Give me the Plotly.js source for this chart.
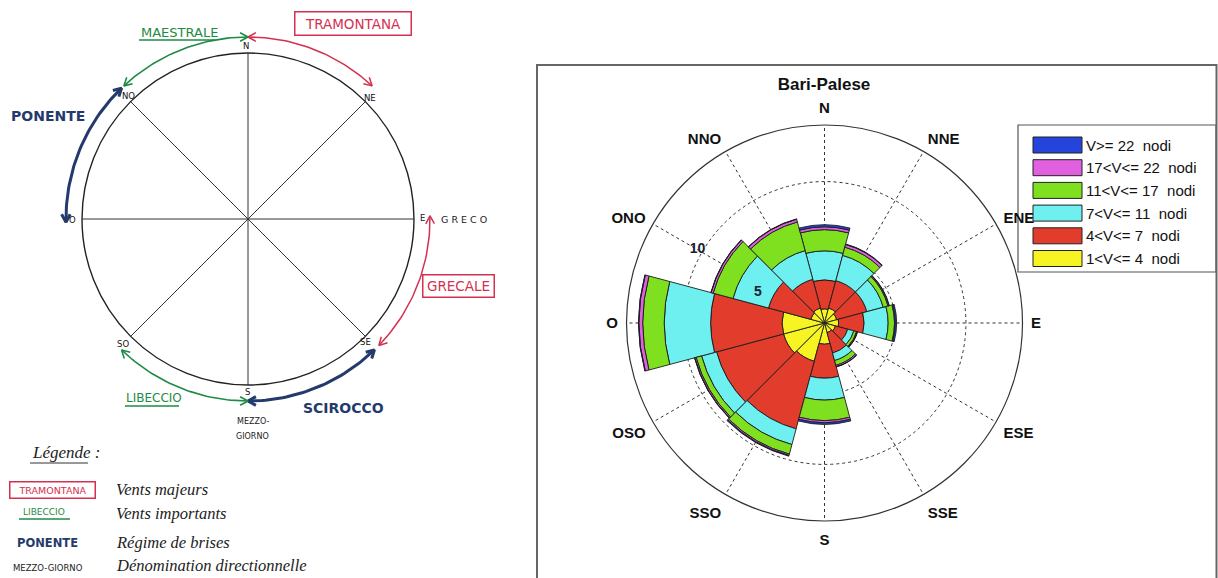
<!DOCTYPE html>
<html><head><meta charset="utf-8">
<script src="https://cdn.plot.ly/plotly-3.0.1.min.js"></script>
<style>html,body{margin:0;padding:0;background:#fff}#chart{width:1218px;height:578px}</style>
</head><body><div id="chart"></div>
<script>
// ---------------- Wind rose data (Bari-Palese) ----------------
const directions = [0, 30, 60, 90, 120, 150, 180, 210, 240, 270, 300, 330];
const directionLabels = ['N', 'NNE', 'ENE', 'E', 'ESE', 'SSE', 'S', 'SSO', 'OSO', 'O', 'ONO', 'NNO'];
const radialTicks = [5, 10];
const classNames = ['1<V<= 4  nodi', '4<V<= 7  nodi', '7<V<= 11  nodi', '11<V<= 17  nodi', '17<V<= 22  nodi', 'V>= 22  nodi'];
const classColors = ['#f6f523', '#e23c2c', '#6ef0f0', '#7fe020', '#e060e0', '#2444dc'];
const v1to4   = [1.0, 1.1, 0.9, 1.0, 0.8, 0.7, 1.5, 2.8, 3.0, 3.0, 1.0, 1.1];
const v4to7   = [2.05, 2.0, 2.2, 1.8, 0.9, 1.5, 2.4, 4.95, 4.9, 5.05, 3.1, 2.1];
const v7to11  = [2.05, 1.85, 1.2, 1.7, 0.45, 0.55, 1.55, 1.15, 1.1, 3.28, 2.6, 2.1];
const v11to17 = [1.5, 0.6, 0.35, 0.45, 0.2, 0.35, 1.45, 0.7, 0.4, 1.52, 1.45, 2.1];
const v17to22 = [0.2, 0.2, 0.07, 0.05, 0.05, 0.1, 0.15, 0.1, 0.1, 0.27, 0.15, 0.2];
const vOver22 = [0.15, 0.03, 0.03, 0.1, 0.02, 0.02, 0.12, 0.05, 0.02, 0.03, 0.02, 0.02];
const classValues = [v1to4, v4to7, v7to11, v11to17, v17to22, vOver22];

// ---------------- Hand-drawn compass diagram (left) ----------------
const compassPoints = ['N', 'NE', 'E', 'SE', 'S', 'SO', 'O', 'NO'];
const compassAngles = [0, 45, 90, 135, 180, 225, 270, 315];
const winds = [
  {name: 'TRAMONTANA', from: 0,   to: 43,  kind: 'major'},
  {name: 'MAESTRALE',  from: 0,   to: -43, kind: 'important'},
  {name: 'PONENTE',    from: 316, to: 269, kind: 'breeze'},
  {name: 'GRECALE',    from: 89,  to: 134, kind: 'major'},
  {name: 'SCIROCCO',   from: 136, to: 180, kind: 'breeze'},
  {name: 'LIBECCIO',   from: 180, to: 224, kind: 'important'}
];
const kindColor = {major: '#d3314f', important: '#1f8a45', breeze: '#243a6c'};
const kindWidth = {major: 1.5, important: 1.6, breeze: 3};
const legendRows = ['Vents majeurs', 'Vents importants', 'Régime de brises', 'Dénomination directionnelle'];

// geometry (pixel space of the picture)
const C = {x: 248, y: 219}, R = 166, RA = 182;
function pt(deg, r) { const a = deg * Math.PI / 180; return [C.x + r * Math.sin(a), C.y - r * Math.cos(a)]; }

const traces = [];
const shapes = [];
const annotations = [];

// circle + 8 spokes
shapes.push({type: 'circle', xref: 'x', yref: 'y', x0: C.x - R, x1: C.x + R, y0: C.y - R, y1: C.y + R, line: {color: '#222', width: 1.4}});
for (let i = 0; i < 4; i++) {
  const p = pt(compassAngles[i], R), q = pt(compassAngles[i] + 180, R);
  shapes.push({type: 'line', xref: 'x', yref: 'y', x0: p[0], y0: p[1], x1: q[0], y1: q[1], line: {color: '#333', width: 1}});
}
// compass letters (label offset from the point on the circle)
const letterShift = {N: [-2, -7], NE: [5, -4], E: [8, -1], SE: [0, 6], S: [-1, 7], SO: [-8, 8], O: [-10, 1], NO: [-2, -6]};
compassPoints.forEach((p, i) => {
  const q = pt(compassAngles[i], R);
  annotations.push({xref: 'x', yref: 'y', x: q[0] + letterShift[p][0], y: q[1] + letterShift[p][1], text: p, showarrow: false,
    font: {family: 'DejaVu Sans', size: 8.5, color: '#111'}});
});
annotations.push({xref: 'x', yref: 'y', x: 464, y: 219, text: 'G R E C O', showarrow: false, font: {family: 'DejaVu Sans', size: 9.5, color: '#222'}});
annotations.push({xref: 'x', yref: 'y', x: 253, y: 421, text: 'MEZZO-', showarrow: false, font: {family: 'DejaVu Sans', size: 8, color: '#222'}});
annotations.push({xref: 'x', yref: 'y', x: 252, y: 436, text: 'GIORNO', showarrow: false, font: {family: 'DejaVu Sans', size: 8, color: '#222'}});

// wind arcs with arrowheads at both ends
winds.forEach(w => {
  const n = 40, xs = [], ys = [];
  for (let k = 0; k <= n; k++) { const p = pt(w.from + (w.to - w.from) * k / n, RA); xs.push(p[0]); ys.push(p[1]); }
  const col = kindColor[w.kind], wd = kindWidth[w.kind];
  traces.push({type: 'scatter', mode: 'lines', x: xs, y: ys, xaxis: 'x', yaxis: 'y', line: {color: col, width: wd}, hoverinfo: 'skip', showlegend: false});
  const s = Math.sign(w.to - w.from);
  [[w.to, s], [w.from, -s]].forEach(([ang, sg]) => {
    const a = ang * Math.PI / 180, tip = pt(ang, RA);
    const dx = sg * Math.cos(a), dy = sg * Math.sin(a);
    const L = 9, arm = [];
    [0.5, -0.5].forEach(rot => {
      const c = Math.cos(rot), sn = Math.sin(rot);
      arm.push([tip[0] - L * (dx * c - dy * sn), tip[1] - L * (dx * sn + dy * c)]);
    });
    traces.push({type: 'scatter', mode: 'lines', x: [arm[0][0], tip[0], arm[1][0]], y: [arm[0][1], tip[1], arm[1][1]], xaxis: 'x', yaxis: 'y',
      line: {color: col, width: wd}, hoverinfo: 'skip', showlegend: false});
  });
});

// wind names
const nameStyle = {
  major: {family: 'DejaVu Sans', size: 13.5, color: kindColor.major},
  important: {family: 'DejaVu Sans', size: 13, color: kindColor.important},
  breeze: {family: 'DejaVu Sans', size: 14, color: kindColor.breeze, weight: 'bold'}
};
const namePos = {TRAMONTANA: [353, 23], MAESTRALE: [179, 32], PONENTE: [48, 116], GRECALE: [458, 286], SCIROCCO: [343, 408], LIBECCIO: [154, 398]};
const boxSize = {TRAMONTANA: [111, 18], GRECALE: [66, 17]};
winds.forEach(w => {
  const a = {xref: 'x', yref: 'y', x: namePos[w.name][0], y: namePos[w.name][1], text: w.name, showarrow: false, font: nameStyle[w.kind]};
  if (w.kind === 'major') { Object.assign(a, {bordercolor: kindColor.major, borderwidth: 1.5, borderpad: 2, width: boxSize[w.name][0], height: boxSize[w.name][1]}); }
  if (w.name === 'LIBECCIO') { a.font = Object.assign({}, nameStyle.important, {size: 12}); }
  annotations.push(a);
  if (w.kind === 'important') {
    const half = w.name === 'LIBECCIO' ? 29 : 40;
    shapes.push({type: 'line', xref: 'x', yref: 'y', x0: namePos[w.name][0] - half, x1: namePos[w.name][0] + half - 4, y0: namePos[w.name][1] + 8, y1: namePos[w.name][1] + 8, line: {color: kindColor.important, width: 1.5}});
  }
});

// left legend
annotations.push({xref: 'x', yref: 'y', x: 30, y: 452, xanchor: 'left', text: '<i>Légende :</i>', showarrow: false, font: {family: 'Liberation Serif', size: 17, color: '#222'}});
shapes.push({type: 'line', xref: 'x', yref: 'y', x0: 30, x1: 88, y0: 463, y1: 463, line: {color: '#333', width: 1}});
const legY = [490, 514, 543, 566];
annotations.push({xref: 'x', yref: 'y', x: 52, y: legY[0], text: 'TRAMONTANA', showarrow: false, font: {family: 'DejaVu Sans', size: 9.5, color: kindColor.major}, bordercolor: kindColor.major, borderwidth: 1.5, borderpad: 2, width: 80, height: 11});
annotations.push({xref: 'x', yref: 'y', x: 44, y: legY[1] - 2, text: 'LIBECCIO', showarrow: false, font: {family: 'DejaVu Sans', size: 9, color: kindColor.important}});
shapes.push({type: 'line', xref: 'x', yref: 'y', x0: 19, x1: 70, y0: legY[1] + 5, y1: legY[1] + 5, line: {color: kindColor.important, width: 1.3}});
annotations.push({xref: 'x', yref: 'y', x: 47, y: legY[2], text: 'PONENTE', showarrow: false, font: {family: 'DejaVu Sans', size: 11.5, color: kindColor.breeze, weight: 'bold'}});
annotations.push({xref: 'x', yref: 'y', x: 48, y: legY[3] + 2, text: 'MEZZO-GIORNO', showarrow: false, font: {family: 'DejaVu Sans', size: 8.5, color: '#222'}});
legendRows.forEach((t, i) => {
  annotations.push({xref: 'x', yref: 'y', x: 114, y: legY[i] - 1, xanchor: 'left', text: '<i>' + t + '</i>', showarrow: false, font: {family: 'Liberation Serif', size: 16.5, color: '#222'}});
});

// ---------------- Right panel: frame ----------------
shapes.push({type: 'rect', xref: 'x', yref: 'y', x0: 537, x1: 1216.5, y0: 65, y1: 600, line: {color: '#666', width: 2}});

// ---------------- Wind rose bars ----------------
classValues.forEach((vals, i) => {
  traces.push({type: 'barpolar', r: vals, theta: directions, width: directions.map(() => 30), name: classNames[i],
    marker: {color: classColors[i], line: {color: '#1c1c1c', width: 0.9}}, subplot: 'polar', showlegend: false, hoverinfo: 'r+theta+name'});
});

// custom legend box for wind classes (blue on top)
const lg = {x0: 1018, y0: 125, x1: 1216, y1: 272, sw0: 1033, sw1: 1082, top: 145, step: 22.7};
shapes.push({type: 'rect', xref: 'x', yref: 'y', x0: lg.x0, x1: lg.x1, y0: lg.y0, y1: lg.y1, line: {color: '#555', width: 1.2}, fillcolor: '#fff', layer: 'below'});
for (let k = 0; k < classNames.length; k++) {
  const i = classNames.length - 1 - k, yc = lg.top + k * lg.step;
  shapes.push({type: 'rect', xref: 'x', yref: 'y', x0: lg.sw0, x1: lg.sw1, y0: yc - 8, y1: yc + 8, fillcolor: classColors[i], line: {color: '#222', width: 1}});
  annotations.push({xref: 'x', yref: 'y', x: lg.sw1 + 2, y: yc, xanchor: 'left', text: classNames[i], showarrow: false, font: {family: 'Liberation Sans, Arial', size: 15, color: '#111'}});
}

const layout = {
  width: 1218, height: 578, autosize: false,
  margin: {l: 0, r: 0, t: 0, b: 0},
  paper_bgcolor: '#ffffff', plot_bgcolor: 'rgba(0,0,0,0)',
  showlegend: false,
  title: {text: '<b>Bari-Palese</b>', x: 824 / 1218, y: 1 - 84 / 578, xanchor: 'center', yanchor: 'middle', xref: 'paper', yref: 'paper',
    font: {family: 'Liberation Sans, Arial', size: 17, color: '#111'}},
  xaxis: {range: [0, 1218], domain: [0, 1], visible: false, fixedrange: true},
  yaxis: {range: [578, 0], domain: [0, 1], visible: false, fixedrange: true},
  polar: {
    domain: {x: [(824.5 - 198) / 1218, (824.5 + 198) / 1218], y: [(255 - 198) / 578, (255 + 198) / 578]},
    bgcolor: 'rgba(0,0,0,0)', barmode: 'stack', bargap: 0,
    angularaxis: {rotation: 90, direction: 'clockwise', tickmode: 'array', tickvals: directions, ticktext: directionLabels,
      showgrid: true, gridcolor: '#333', griddash: '3px,3px', gridwidth: 1, showline: true, linecolor: '#333', linewidth: 1.2,
      ticks: 'outside', ticklen: 5, tickcolor: 'rgba(0,0,0,0)', tickfont: {family: 'Liberation Sans, Arial', size: 15, color: '#111', weight: 'bold'}},
    radialaxis: {range: [0, 14], tickmode: 'array', tickvals: radialTicks, showgrid: true, gridcolor: '#333', griddash: '3px,3px', gridwidth: 1,
      showline: false, ticks: '', angle: 143, side: 'counterclockwise', tickangle: 143, tickfont: {family: 'Liberation Sans, Arial', size: 14, color: '#1a2030', weight: 'bold'}}
  },
  shapes: shapes, annotations: annotations
};

Plotly.newPlot('chart', traces, layout, {staticPlot: true, displayModeBar: false});
</script></body></html>
